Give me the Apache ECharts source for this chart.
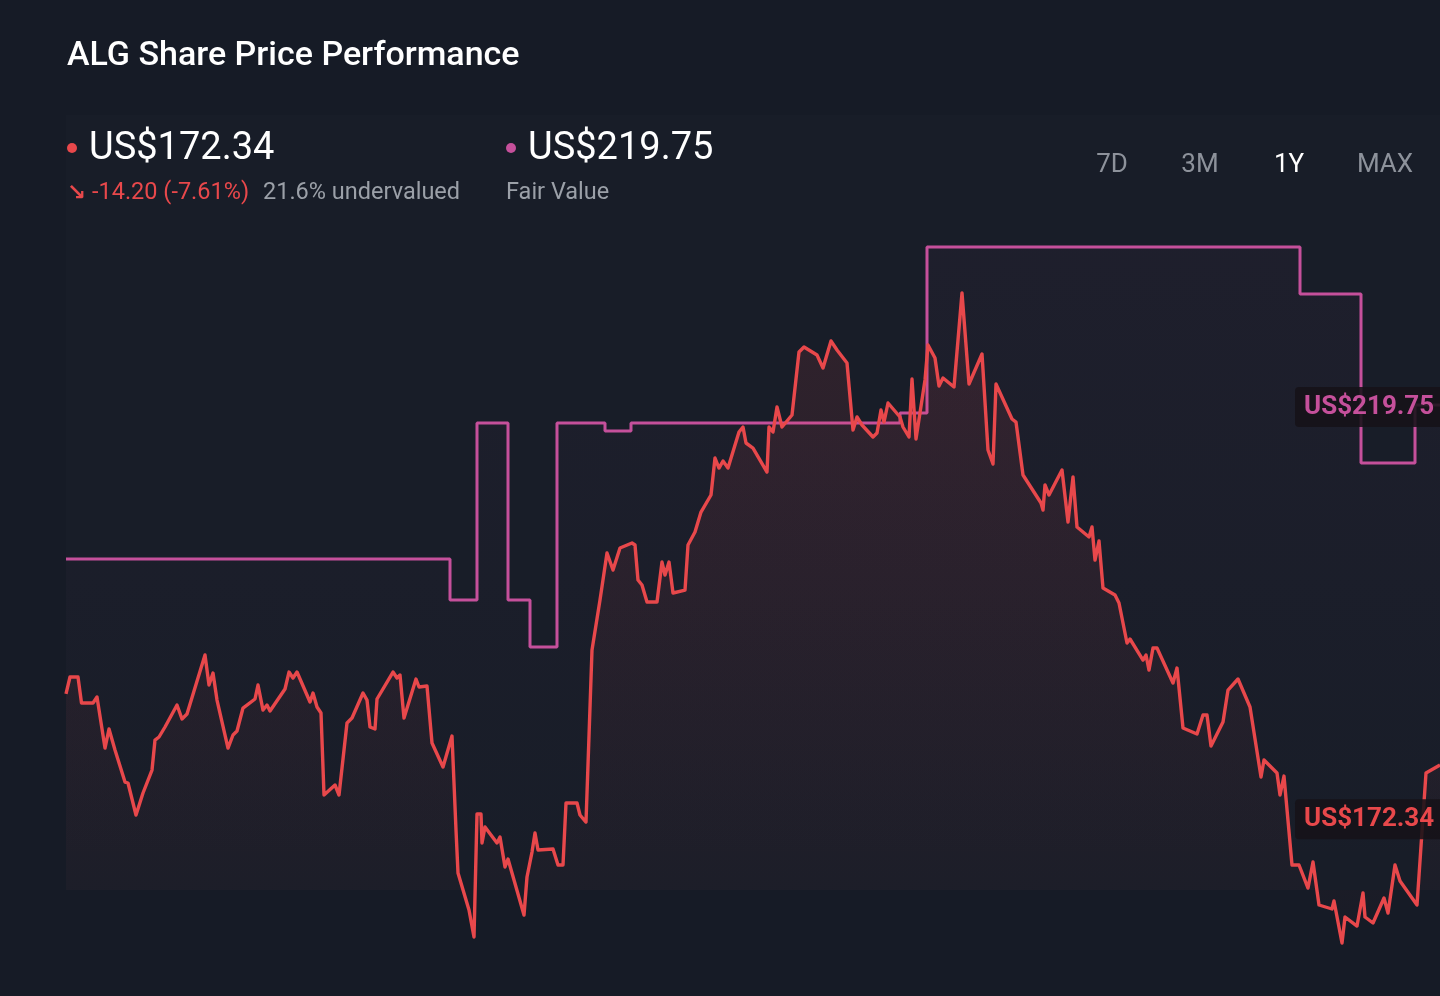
<!DOCTYPE html>
<html>
<head>
<meta charset="utf-8">
<script src="https://cdn.jsdelivr.net/npm/echarts@6/dist/echarts.min.js"></script>
<style>
html,body{margin:0;padding:0;background:#161b26;}
#chart{width:1440px;height:996px;}
</style>
</head>
<body>
<div id="chart"></div>
<script>
// ---- data (x = trading-day index over the 1Y window, y = US$) ----
const priceDays = [0,0.8,2.4,3.1,5.4,6.2,7.8,8.6,9.8,11.8,12.4,14,15.4,17.2,17.8,18.6,19.8,22.2,23.2,24.2,27.8,28.6,29.4,30.2,32.4,33.4,34.2,35.4,37.8,38.4,39.4,40.2,40.8,43.8,44.6,45.4,46.2,48.8,49.4,50.2,51,51.6,53.8,54.6,56.2,57.2,59.4,60.2,60.8,61.8,62.2,65.4,66.2,66.8,67.6,70,70.6,72.2,73.2,75.4,77.2,77.6,78,78.4,80.6,81.6,82.2,83,83.2,83.8,86.2,86.8,87.8,88.4,91.6,92.2,93.2,93.8,94.4,97.4,98.4,99.4,100,102.2,102.8,104,105.2,106.8,108.2,108.6,109.4,110.8,113.2,113.8,114.4,115.2,116.2,118.2,119.2,119.8,120.6,121.4,123.8,124.4,125.8,127,129,129.8,130.6,131.4,132.4,134.6,135.4,136,137.4,140.2,140.6,141.4,142.2,143.2,145.2,146.6,147.6,150.2,151.4,153,154.2,156.2,157.4,158.2,159.2,161.4,162.2,163,163.6,164.4,166.8,167.4,168.6,169.2,170,171.8,172.4,173.8,174.6,175.4,177.6,179.2,180.6,183.2,184.4,185.4,186,189.2,190,191.4,195,195.4,195.8,196.6,199.2,200.4,201.4,202.2,204.6,205.2,205.8,206.6,207.4,209.8,210.6,212.2,212.8,215.4,216,216.6,217.4,218.2,221.4,222.2,223.4,226.2,227.4,228.2,229,231.4,232.4,234.4,236.8,239,239.6,242.2,242.8,243.6,245.2,246.6,248.4,249.4,250.6,253.2,253.6,255.2,255.8,258.2,259.4,259.8,261.4,263.6,264.4,265.8,266.8,270.2,272,274.8];
const priceValues = [186.54,188.47,188.47,185.48,185.48,186.17,180.30,182.49,180.07,176.39,176.28,172.60,175.13,177.77,181.22,181.57,182.72,185.25,183.64,184.21,191.00,187.55,188.93,185.82,180.30,181.80,182.26,184.90,185.94,187.55,184.67,185.25,184.56,187.09,189.04,188.35,189.04,185.59,186.63,185.02,184.33,174.90,176.05,174.90,183.18,183.75,186.63,185.82,182.72,182.49,185.94,189.04,188.35,188.70,183.75,188.24,187.32,187.43,180.88,178.12,181.68,181.68,170.87,165.93,161.67,158.57,172.71,172.71,169.38,171.22,169.38,170.07,166.62,167.54,161.10,165.47,168.34,170.53,168.57,168.69,166.85,166.85,173.98,173.98,172.60,171.79,191.57,197.32,202.73,202.61,200.77,203.30,203.88,203.65,199.62,199.05,197.09,197.09,201.69,200.20,201.69,198.13,198.47,203.65,205.14,207.44,209.40,213.65,212.50,213.31,212.50,216.64,217.22,215.38,214.80,212.04,217.22,216.64,219.52,217.22,218.60,225.85,226.42,225.50,224.01,227.11,226.08,224.58,216.87,218.37,217.45,216.07,216.53,219.17,217.79,219.98,218.37,217.22,216.07,222.74,215.84,222.63,226.65,225.16,221.94,222.86,221.82,232.63,222.17,225.62,214.57,212.96,222.17,218.14,217.79,211.70,208.48,207.67,210.55,209.40,212.27,206.29,211.47,205.72,204.57,205.72,201.92,204.11,198.70,197.90,196.98,192.38,192.84,190.42,191.00,189.27,191.80,191.80,187.78,189.50,182.60,181.91,184.10,184.10,180.53,183.29,186.97,188.24,185.02,176.97,178.92,177.43,174.90,177.08,166.85,166.85,164.20,167.19,162.25,161.79,162.71,157.88,160.87,159.83,163.63,160.87,160.18,163.05,161.33,166.85,165.01,162.25,177.43,178.35];
const fairDays = [0,76.8,82.2,88.4,92.8,98.2,107.8,113,166.8,172.2,246.8,259,269.8,274.8];
const fairValues = [202.04,197.32,217.68,197.32,191.92,217.68,216.76,217.68,218.83,237.92,232.52,213.08,219.75,219.75];
const lastPrice = 172.34;
const fairValue = 219.75;
const titleText = 'ALG Share Price Performance';
const changeText = '-14.20 (-7.61%)';
const undervaluedText = '21.6% undervalued';
const rangeButtons = ['7D','3M','1Y','MAX'];
const activeRange = '1Y';

const priceData = priceDays.map((d,i)=>[d, priceValues[i]]);
const fairData = fairDays.map((d,i)=>[d, fairValues[i]]);

const RED = '#e8484b';
const PINK = '#c5509b';
const FONT = 'Roboto, "DejaVu Sans", sans-serif';

const chart = echarts.init(document.getElementById('chart'), null, {renderer:'canvas'});

function txt(id, x, y, text, fill, font, align){
  return {type:'text', id:id, x:x, y:y, style:{text:text, fill:fill, font:font,
    textAlign:align||'left', align:align||'left', textVerticalAlign:'middle', verticalAlign:'middle'}};
}
const btnX = [1112, 1200, 1289, 1385];
const headerGraphics = [
  txt('title', 67, 56, titleText, '#ffffff', '500 34px '+FONT),
  {type:'circle', id:'dot1', shape:{cx:72, cy:148, r:5}, style:{fill:RED}},
  txt('price', 89, 149, 'US$' + lastPrice.toFixed(2), '#ffffff', '400 38px '+FONT),
  txt('arrow', 67, 194, '↘', RED, '700 23px "DejaVu Sans", sans-serif'),
  txt('chg', 92, 193, changeText, RED, '400 23.5px '+FONT),
  txt('under', 263, 193, undervaluedText, '#9ba0a8', '400 23.5px '+FONT),
  {type:'circle', id:'dot2', shape:{cx:511, cy:148, r:5}, style:{fill:PINK}},
  txt('fv', 528, 149, 'US$' + fairValue.toFixed(2), '#ffffff', '400 38px '+FONT),
  txt('fvl', 506, 193, 'Fair Value', '#9ba0a8', '400 23.5px '+FONT)
].concat(rangeButtons.map((b,i)=>txt('btn'+i, btnX[i], 165, b, b===activeRange ? '#ffffff' : '#8d929b', '400 26px '+FONT, 'center')));

chart.setOption({
  backgroundColor:'#161b26',
  animation:false,
  grid:{left:66, right:0, top:115, bottom:106, show:true, borderWidth:0, backgroundColor:'rgba(255,255,255,0.012)'},
  xAxis:{type:'value', min:0, max:274.8, show:false},
  yAxis:{type:'value', min:163.975, max:253.10, show:false},
  series:[
    {
      name:'Fair Value', type:'line', data:fairData, step:'end', symbol:'none', clip:false, z:2,
      lineStyle:{color:PINK, width:3},
      areaStyle:{origin:'start', color:new echarts.graphic.LinearGradient(0,0,0,1,[
        {offset:0, color:'rgba(197,80,155,0.05)'},{offset:1, color:'rgba(197,80,155,0.0)'}])}
    },
    {
      name:'Price', type:'line', data:priceData, symbol:'none', clip:false, z:3,
      lineStyle:{color:RED, width:3.4, join:'round'},
      areaStyle:{origin:'start', color:new echarts.graphic.LinearGradient(0,0,0,1,[
        {offset:0, color:'rgba(232,72,75,0.17)'},{offset:1, color:'rgba(232,72,75,0.02)'}])}
    }
  ],
  graphic: headerGraphics
});

// value labels at right edge, positioned through the chart's own scale
const fvY = chart.convertToPixel({gridIndex:0}, [fairDays[fairDays.length-1], fairValue])[1];
const pY = chart.convertToPixel({gridIndex:0}, [priceDays[priceDays.length-1], lastPrice])[1];
function valueLabel(id, text, color, y){
  return {type:'text', id:id, x:1295, y:y + 2, z:100,
    style:{text:text, fill:color, font:'700 26px '+FONT, textVerticalAlign:'middle', verticalAlign:'middle',
      backgroundColor:'rgba(22,18,24,0.88)', padding:[7,10,7,9], borderRadius:4}};
}
chart.setOption({graphic: headerGraphics.concat([
  valueLabel('fvLabel', 'US$' + fairValue.toFixed(2), PINK, fvY),
  valueLabel('pLabel', 'US$' + lastPrice.toFixed(2), RED, pY)
])});
</script>
</body>
</html>
